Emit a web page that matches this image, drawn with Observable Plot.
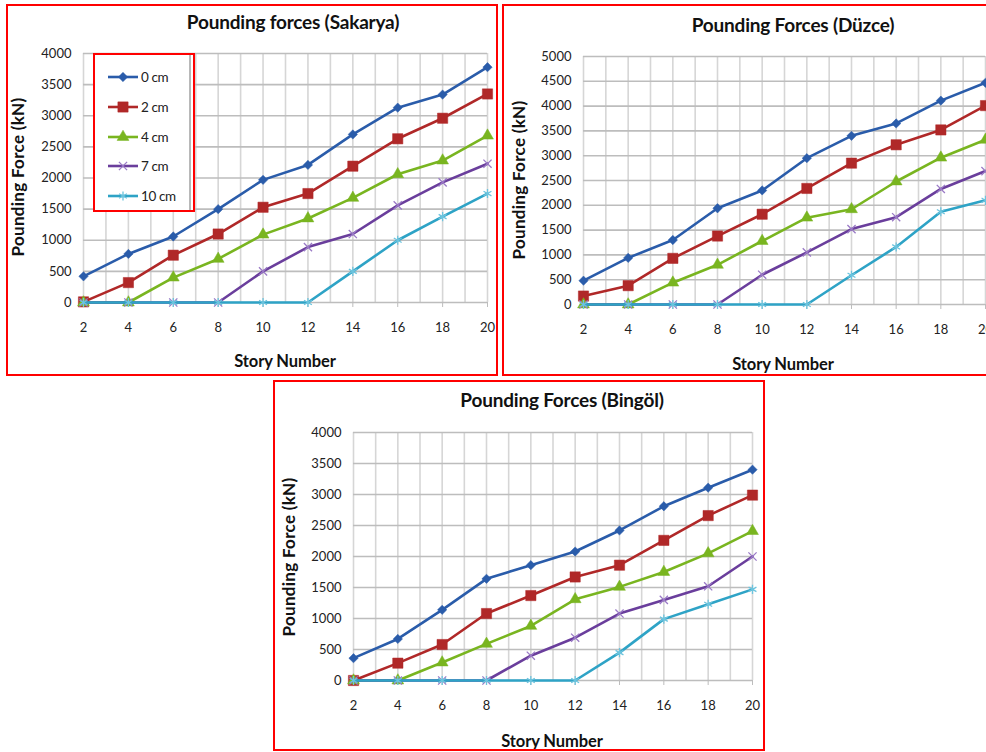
<!DOCTYPE html>
<html><head><meta charset="utf-8">
<script src="https://cdn.jsdelivr.net/npm/d3@7"></script>
<script src="https://cdn.jsdelivr.net/npm/@observablehq/plot@0.6"></script>
<style>
html,body{margin:0;padding:0;background:#fff;}
body{width:986px;height:752px;overflow:hidden;position:relative;font-family:Lato,"Open Sans",sans-serif;}
.panel{position:absolute;}
.panel svg.plot{position:absolute;left:0;top:0;}
.frame{position:absolute;left:0;top:0;right:0;bottom:0;border:2px solid #ff0000;box-sizing:border-box;pointer-events:none;}
.title{position:absolute;transform:translate(-50%,-50%);font-weight:bold;font-size:19px;color:#111;white-space:nowrap;letter-spacing:-0.2px;}
.xlab{position:absolute;transform:translate(-50%,-50%);font-weight:bold;font-size:16.5px;color:#111;white-space:nowrap;letter-spacing:-0.1px;}
.ylab{position:absolute;transform:translate(-50%,-50%) rotate(-90deg);font-weight:bold;font-size:17px;color:#111;white-space:nowrap;letter-spacing:0.3px;}
.legend{position:absolute;border:2px solid #ff0000;box-sizing:border-box;background:#fff;}
.legend .shadow{position:absolute;right:2px;top:0;bottom:0;width:2px;background:#b8b8b8;}
.legend .entry{position:absolute;left:12px;height:16px;display:flex;align-items:center;transform:translateY(-50%);}
.legend .entry span{font-size:13.5px;color:#222;margin-left:2px;letter-spacing:-0.4px;}
</style></head><body>
<script>
// ---- data ----
const stories = [2, 4, 6, 8, 10, 12, 14, 16, 18, 20];
const storyGrid = [2, 3, 4, 5, 6, 7, 8, 9, 10, 11, 12, 13, 14, 15, 16, 17, 18, 19, 20];
const gapLabels = ["0 cm", "2 cm", "4 cm", "7 cm", "10 cm"];

const sakarya0  = [420, 780, 1060, 1500, 1970, 2210, 2700, 3130, 3340, 3780];
const sakarya2  = [10, 320, 760, 1100, 1530, 1750, 2190, 2630, 2960, 3350];
const sakarya4  = [0, 0, 400, 700, 1090, 1350, 1680, 2060, 2280, 2680];
const sakarya7  = [0, 0, 0, 0, 500, 890, 1100, 1560, 1930, 2230];
const sakarya10 = [0, 0, 0, 0, 0, 0, 500, 1000, 1380, 1750];

const duzce0  = [480, 940, 1300, 1940, 2300, 2950, 3400, 3650, 4110, 4470];
const duzce2  = [170, 380, 930, 1380, 1820, 2340, 2850, 3220, 3520, 4010];
const duzce4  = [0, 0, 440, 800, 1280, 1750, 1920, 2480, 2960, 3320];
const duzce7  = [0, 0, 0, 0, 600, 1050, 1520, 1760, 2330, 2690];
const duzce10 = [0, 0, 0, 0, 0, 0, 590, 1160, 1870, 2100];

const bingol0  = [360, 670, 1140, 1640, 1860, 2080, 2420, 2810, 3110, 3400];
const bingol2  = [0, 280, 580, 1080, 1370, 1670, 1860, 2260, 2660, 2990];
const bingol4  = [0, 0, 290, 590, 880, 1310, 1510, 1750, 2050, 2410];
const bingol7  = [0, 0, 0, 0, 400, 690, 1080, 1300, 1520, 2000];
const bingol10 = [0, 0, 0, 0, 0, 0, 450, 990, 1230, 1470];

const yTicks4000 = [0, 500, 1000, 1500, 2000, 2500, 3000, 3500, 4000];
const yTicks5000 = [0, 500, 1000, 1500, 2000, 2500, 3000, 3500, 4000, 4500, 5000];

// ---- styles ----
const lineColors   = ["#2a5caa", "#b02828", "#79b520", "#6a3e9c", "#2ea3c6"];
const markerColors = ["#2a5caa", "#b02828", "#79b520", "#9a7ac6", "#6cc4de"];
const symbolNames  = ["diamond2", "square", "triangle", "times", "asterisk"];
const d3Symbols    = [d3.symbolDiamond2, d3.symbolSquare, d3.symbolTriangle, d3.symbolTimes, d3.symbolAsterisk];
const markerR      = [4.2, 5.8, 4.4, 3.8, 4.3];
const markerFilled = [true, true, true, false, false];

function makePanel(cfg) {
  const div = document.createElement("div");
  div.className = "panel";
  Object.assign(div.style, {left: cfg.L + "px", top: cfg.T + "px", width: cfg.W + "px", height: cfg.H + "px"});
  const marks = [
    Plot.gridX(storyGrid, {stroke: "#d6d6d6", strokeOpacity: 1, strokeWidth: 1.6}),
    Plot.gridY(cfg.yTicks, {stroke: "#bdbdbd", strokeOpacity: 1, strokeWidth: 1.6}),
    Plot.axisY({ticks: cfg.yTicks, tickSize: 0, tickPadding: 12, tickFormat: d3.format("d"), label: null, fill: "#222"}),
    Plot.axisX({ticks: stories, tickSize: 5, tickPadding: 15, tickFormat: d3.format("d"), label: null, stroke: "#bdbdbd", fill: "#222"})
  ];
  cfg.series.forEach((vals, i) => {
    const rows = vals.map((v, j) => ({story: stories[j], force: v, gap: gapLabels[i]}));
    marks.push(Plot.line(rows, {x: "story", y: "force", stroke: lineColors[i], strokeWidth: 2.6}));
    marks.push(Plot.dot(rows, {
      x: "story", y: "force", symbol: symbolNames[i], r: markerR[i],
      fill: markerFilled[i] ? markerColors[i] : "none",
      stroke: markerColors[i], strokeWidth: markerFilled[i] ? 0.5 : 1.3
    }));
  });
  const svg = Plot.plot({
    width: cfg.W, height: cfg.H,
    marginLeft: cfg.m[0], marginRight: cfg.m[1], marginTop: cfg.m[2], marginBottom: cfg.m[3],
    x: {domain: [2, 20]},
    y: {domain: [0, cfg.yTicks[cfg.yTicks.length - 1]]},
    style: {fontFamily: "Lato, 'Open Sans', sans-serif", fontSize: "13px", color: "#222", background: "transparent", overflow: "visible"},
    marks
  });
  svg.classList.add("plot");
  div.appendChild(svg);
  const t = document.createElement("div"); t.className = "title"; t.textContent = cfg.title;
  t.style.left = cfg.tPos[0] + "px"; t.style.top = cfg.tPos[1] + "px"; div.appendChild(t);
  const xl = document.createElement("div"); xl.className = "xlab"; xl.textContent = "Story Number";
  xl.style.left = cfg.xPos[0] + "px"; xl.style.top = cfg.xPos[1] + "px"; div.appendChild(xl);
  const yl = document.createElement("div"); yl.className = "ylab"; yl.textContent = "Pounding Force (kN)";
  yl.style.left = cfg.yPos[0] + "px"; yl.style.top = cfg.yPos[1] + "px"; div.appendChild(yl);
  const fr = document.createElement("div"); fr.className = "frame"; div.appendChild(fr);
  document.body.appendChild(div);
  return div;
}

const p1 = makePanel({
  L: 6, T: 4, W: 492, H: 372, m: [77, 11, 49, 74],
  yTicks: yTicks4000, series: [sakarya0, sakarya2, sakarya4, sakarya7, sakarya10],
  title: "Pounding forces (Sakarya)", tPos: [287, 17], xPos: [279, 357], yPos: [11, 173]
});
makePanel({
  L: 502, T: 4, W: 492, H: 372, m: [81, 9, 52, 72],
  yTicks: yTicks5000, series: [duzce0, duzce2, duzce4, duzce7, duzce10],
  title: "Pounding Forces (Düzce)", tPos: [291, 20], xPos: [281, 360], yPos: [16, 176]
});
makePanel({
  L: 273, T: 380, W: 492, H: 371, m: [80, 13, 52, 71],
  yTicks: yTicks4000, series: [bingol0, bingol2, bingol4, bingol7, bingol10],
  title: "Pounding Forces (Bingöl)", tPos: [289, 19], xPos: [279, 361], yPos: [15, 177]
});

// legend (Sakarya panel)
const leg = document.createElement("div");
leg.className = "legend";
Object.assign(leg.style, {left: "87px", top: "49px", width: "102px", height: "159px"});
const sh = document.createElement("div"); sh.className = "shadow"; leg.appendChild(sh);
const entryY = [22, 52, 82, 111, 141];
gapLabels.forEach((g, i) => {
  const e = document.createElement("div"); e.className = "entry"; e.style.top = entryY[i] + "px";
  const s = d3.create("svg").attr("width", 32).attr("height", 16);
  s.append("line").attr("x1", 1).attr("x2", 31).attr("y1", 8).attr("y2", 8)
    .attr("stroke", lineColors[i]).attr("stroke-width", 2.6);
  s.append("path").attr("transform", "translate(16,8)")
    .attr("d", d3.symbol(d3Symbols[i], Math.PI * markerR[i] * markerR[i])())
    .attr("fill", markerFilled[i] ? markerColors[i] : "none")
    .attr("stroke", markerColors[i]).attr("stroke-width", markerFilled[i] ? 0.5 : 1.3);
  e.appendChild(s.node());
  const sp = document.createElement("span"); sp.textContent = g; e.appendChild(sp);
  leg.appendChild(e);
});
p1.appendChild(leg);
</script>
</body></html>
